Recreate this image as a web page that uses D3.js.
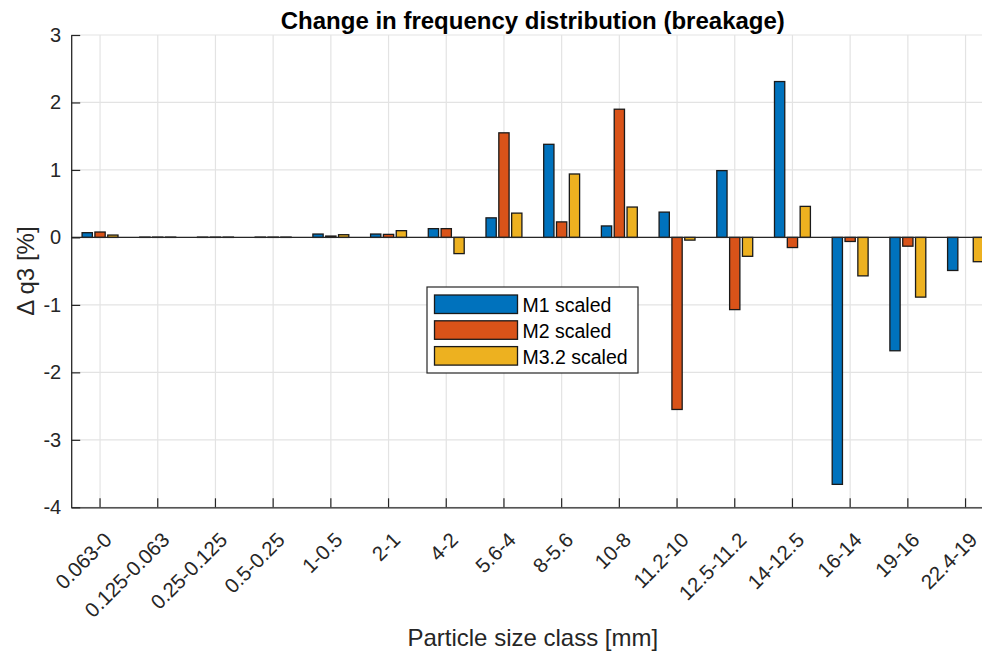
<!DOCTYPE html>
<html>
<head>
<meta charset="utf-8">
<script src="https://cdn.jsdelivr.net/npm/d3@7"></script>
<style>
body{margin:0;background:#fff;}
svg{display:block;font-family:Arial,"Liberation Sans",Helvetica,sans-serif;}
</style>
</head>
<body>
<svg id="svg" width="982" height="653"></svg>
<script>
// size classes, coarse at the right
var classes = ["0.063-0","0.125-0.063","0.25-0.125","0.5-0.25","1-0.5","2-1","4-2","5.6-4","8-5.6","10-8","11.2-10","12.5-11.2","14-12.5","16-14","19-16","22.4-19"];

var seriesNames = ["M1 scaled","M2 scaled","M3.2 scaled"];
var seriesColors = ["#0072BD","#D95319","#EDB120"];

var m1 = [0.07,0.005,0.005,0.005,0.05,0.05,0.13,0.29,1.38,0.17,0.375,0.99,2.31,-3.66,-1.68,-0.49];
var m2 = [0.08,0.005,0.005,0.005,0.02,0.045,0.13,1.55,0.23,1.90,-2.55,-1.07,-0.15,-0.06,-0.13,0.0];
var m3 = [0.035,0.005,0.005,0.005,0.04,0.10,-0.24,0.36,0.94,0.45,-0.04,-0.28,0.46,-0.57,-0.885,-0.36];

var yTicks = [-4,-3,-2,-1,0,1,2,3];

var values = [m1,m2,m3];

// plot box (right side runs past the picture edge, as in the reference)
var pLeft = 71.2, pRight = 994.4, pTop = 35, pBottom = 507.3;
var axisColor = "#262626";

var svg = d3.select("svg");

var x = d3.scaleBand().domain(classes).range([pLeft,pRight]).padding(0);
var bw = x.bandwidth();
var g = bw*0.667;
var sub = d3.scaleBand().domain(seriesNames).range([-g/2,g/2]).paddingInner(0.2).paddingOuter(0.1);

var y = d3.scaleLinear().domain([-4,3]).range([pBottom,pTop]);

var cx = function(c){ return x(c)+bw/2; };

// grid
svg.append("g").selectAll("line")
    .data(classes)
    .enter()
    .append("line")
    .attr("x1",function(d){ return cx(d); })
    .attr("x2",function(d){ return cx(d); })
    .attr("y1",pTop).attr("y2",pBottom)
    .attr("stroke","#e3e3e3").attr("stroke-width",1.2);

svg.append("g").selectAll("line")
    .data(yTicks)
    .enter()
    .append("line")
    .attr("x1",pLeft).attr("x2",pRight)
    .attr("y1",function(d){ return y(d); })
    .attr("y2",function(d){ return y(d); })
    .attr("stroke","#e3e3e3").attr("stroke-width",1.2);

// bars
for(var s=0;s<seriesNames.length;s++){
    var rows = classes.map(function(c,i){ return {c:c,v:values[s][i]}; });
    svg.append("g").selectAll("rect")
	.data(rows)
	.enter()
	.append("rect")
	.attr("x",function(d){ return cx(d.c)+sub(seriesNames[s]); })
	.attr("width",sub.bandwidth())
	.attr("y",function(d){ return Math.min(y(d.v),y(0)); })
	.attr("height",function(d){ return Math.abs(y(d.v)-y(0)); })
	.attr("fill",seriesColors[s])
	.attr("stroke","#1a1a1a")
	.attr("stroke-width",1.3);
}

// baseline
svg.append("line")
    .attr("x1",pLeft).attr("x2",pRight)
    .attr("y1",y(0)).attr("y2",y(0))
    .attr("stroke",axisColor).attr("stroke-width",1.2);

// axes
var xAxis = d3.axisBottom(x).tickSizeInner(-9).tickSizeOuter(0);
var gx = svg.append("g")
    .attr("transform","translate(0,"+pBottom+")")
    .call(xAxis);
gx.select(".domain").attr("stroke",axisColor).attr("stroke-width",1.3);
gx.selectAll(".tick line").attr("stroke",axisColor).attr("stroke-width",1.2);
gx.selectAll(".tick text")
    .attr("fill",axisColor)
    .style("font-size","20.5px")
    .attr("text-anchor","end")
    .attr("x",0).attr("y",0)
    .attr("dy",0)
    .attr("transform","translate(13,34) rotate(-45)");

var yAxis = d3.axisLeft(y).tickValues(yTicks)
    .tickFormat(function(d){ return String(d); })
    .tickSizeInner(-9).tickSizeOuter(0).tickPadding(10);
var gy = svg.append("g")
    .attr("transform","translate("+pLeft+",0)")
    .call(yAxis);
gy.select(".domain").attr("stroke",axisColor).attr("stroke-width",1.3);
gy.selectAll(".tick line").attr("stroke",axisColor).attr("stroke-width",1.2);
gy.selectAll(".tick text").attr("fill",axisColor).style("font-size","20px");

// title and labels
svg.append("text")
    .attr("x",(pLeft+pRight)/2).attr("y",29)
    .attr("text-anchor","middle")
    .attr("font-weight","bold")
    .attr("font-size","24px")
    .attr("fill","#000")
    .text("Change in frequency distribution (breakage)");

svg.append("text")
    .attr("x",(pLeft+pRight)/2).attr("y",646)
    .attr("text-anchor","middle")
    .attr("font-size","24px")
    .attr("fill",axisColor)
    .text("Particle size class [mm]");

svg.append("text")
    .attr("transform","translate(34,"+((pTop+pBottom)/2)+") rotate(-90)")
    .attr("text-anchor","middle")
    .attr("font-size","24px")
    .attr("fill",axisColor)
    .text("\u0394 q3 [%]");

// legend
var lg = svg.append("g").attr("transform","translate(427,287)");
lg.append("rect")
    .attr("width",211).attr("height",86)
    .attr("fill","#fff")
    .attr("stroke",axisColor).attr("stroke-width",1.2);
var li = lg.selectAll("g")
    .data(seriesNames)
    .enter()
    .append("g")
    .attr("transform",function(d,i){ return "translate(7.5,"+(8+i*25.8)+")"; });
li.append("rect")
    .attr("width",83).attr("height",18.5)
    .attr("fill",function(d,i){ return seriesColors[i]; })
    .attr("stroke","#1a1a1a").attr("stroke-width",1.3);
li.append("text")
    .attr("x",88).attr("y",17)
    .attr("font-size","19.5px")
    .attr("fill","#000")
    .text(function(d){ return d; });
</script>
</body>
</html>
